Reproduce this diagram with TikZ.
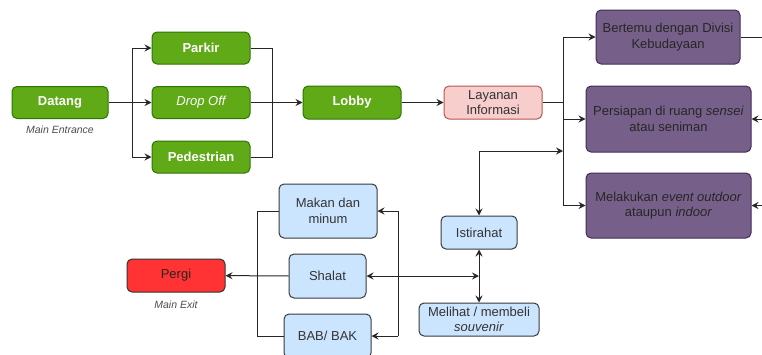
\documentclass[tikz,border=0pt]{standalone}
\usepackage{fontspec}
\setmainfont{Liberation Sans}
\usetikzlibrary{arrows.meta}
\definecolor{greenfill}{HTML}{60A917}
\definecolor{greenline}{HTML}{2D7600}
\definecolor{pinkfill}{HTML}{F8CECC}
\definecolor{pinkline}{HTML}{B85450}
\definecolor{purplefill}{HTML}{76608A}
\definecolor{purpleline}{HTML}{432D57}
\definecolor{bluefill}{HTML}{CCE5FF}
\definecolor{blueline}{HTML}{36393D}
\definecolor{redfill}{HTML}{FF3333}
\definecolor{textdark}{HTML}{333333}
\newcommand{\boxfont}{\fontsize{13}{15.5}\selectfont}
\tikzset{
  box/.style={rounded corners=5pt, line width=1pt, align=center, inner sep=2pt,
    font=\boxfont},
  greenbox/.style={box, fill=greenfill, draw=greenline, text=white, font=\boxfont\bfseries},
  pinkbox/.style={box, fill=pinkfill, draw=pinkline, text=textdark},
  purplebox/.style={box, fill=purplefill, draw=purpleline, text=black!85},
  bluebox/.style={box, fill=bluefill, draw=blueline, text=textdark},
  redbox/.style={box, fill=redfill, draw=black!80, text=black!85},
  caption/.style={font=\fontsize{10.5}{12}\selectfont\itshape, text=black!70},
  link/.style={line width=1pt, draw=black!85},
  arr/.style={link, -{Stealth[length=7pt,width=7pt,inset=2.5pt]}},
  biarr/.style={link, {Stealth[length=7pt,width=7pt,inset=2.5pt]}-{Stealth[length=7pt,width=7pt,inset=2.5pt]}},
}
\begin{document}
\begin{tikzpicture}[x=1pt,y=-1pt]
\useasboundingbox (0,0) rectangle (762,354);

% arrival and entry
\node[greenbox, minimum width=96pt, minimum height=32pt] (datang) at (60,102.5) {Datang};
\node[caption] (entrance) at (60,130) {Main Entrance};
\node[greenbox, minimum width=98pt, minimum height=32pt] (parkir) at (201,48) {Parkir};
\node[greenbox, minimum width=98pt, minimum height=32pt] (dropoff) at (201,102.5) {\normalfont\boxfont\itshape Drop Off};
\node[greenbox, minimum width=98pt, minimum height=32pt] (pedestrian) at (201,157) {Pedestrian};
\node[greenbox, minimum width=98pt, minimum height=33pt] (lobby) at (352,102.5) {Lobby};
\node[pinkbox, minimum width=98pt, minimum height=33pt] (layanan) at (493,102.5) {Layanan\\Informasi};

% activities
\node[purplebox, minimum width=144pt, minimum height=54pt] (bertemu) at (668,37) {Bertemu dengan Divisi\\Kebudayaan};
\node[purplebox, minimum width=165pt, minimum height=66pt] (persiapan) at (668.5,119) {Persiapan di ruang \textit{sensei}\\atau seniman};
\node[purplebox, minimum width=165pt, minimum height=65pt] (melakukan) at (668.5,205.5) {Melakukan \textit{event outdoor}\\ataupun \textit{indoor}};

% rest and facilities
\node[bluebox, minimum width=76pt, minimum height=33pt] (istirahat) at (479,232.5) {Istirahat};
\node[bluebox, minimum width=120pt, minimum height=33pt] (melihat) at (479,319.5) {Melihat / membeli\\\textit{souvenir}};
\node[bluebox, minimum width=98pt, minimum height=54pt] (makan) at (328,211) {Makan dan\\minum};
\node[bluebox, minimum width=77pt, minimum height=44pt] (shalat) at (327.5,276) {Shalat};
\node[bluebox, minimum width=87pt, minimum height=44pt] (bab) at (327.5,336) {BAB/ BAK};

% exit
\node[redbox, minimum width=98pt, minimum height=33pt] (pergi) at (176,275.5) {Pergi};
\node[caption] (exitcap) at (176,305) {Main Exit};

% junction points
\coordinate (split) at (132,102.5);
\coordinate (merge) at (272,102.5);
\coordinate (spine) at (563,102.5);
\coordinate (spinerest) at (563,151);
\coordinate (restjoin) at (479,276);
\coordinate (lefttop) at (257,211);
\coordinate (leftbot) at (257,336);
\coordinate (righttop) at (398,211);
\coordinate (rightbot) at (398,336);
\coordinate (outa) at (775,37);
\coordinate (outb) at (775,119);
\coordinate (outc) at (775,205.5);

% entry flow
\draw[link] (datang) -- (split);
\draw[arr] (split) |- (parkir);
\draw[arr] (split) -- (dropoff);
\draw[arr] (split) |- (pedestrian);
\draw[link] (parkir) -| (merge);
\draw[link] (pedestrian) -| (merge);
\draw[arr] (dropoff) -- (lobby);
\draw[arr] (lobby) -- (layanan);

% information desk to activities
\draw[link] (layanan) -- (spine);
\draw[arr] (spine) |- (bertemu);
\draw[arr] (spine) |- (persiapan);
\draw[arr] (spine) |- (melakukan);
\draw[link] (bertemu) -- (outa);
\draw[arr] (outb) -- (persiapan);
\draw[arr] (outc) -- (melakukan);

% rest area
\draw[biarr] (istirahat) |- (spinerest);
\draw[biarr] (istirahat) -- (melihat);
\draw[biarr] (shalat) -- (restjoin);
\draw[link] (righttop) -- (rightbot);
\draw[arr] (righttop) -- (makan);
\draw[arr] (rightbot) -- (bab);

% leaving
\draw[link] (makan) -- (lefttop) -- (leftbot) -- (bab);
\draw[arr] (shalat) -- (pergi);
\end{tikzpicture}
\end{document}
